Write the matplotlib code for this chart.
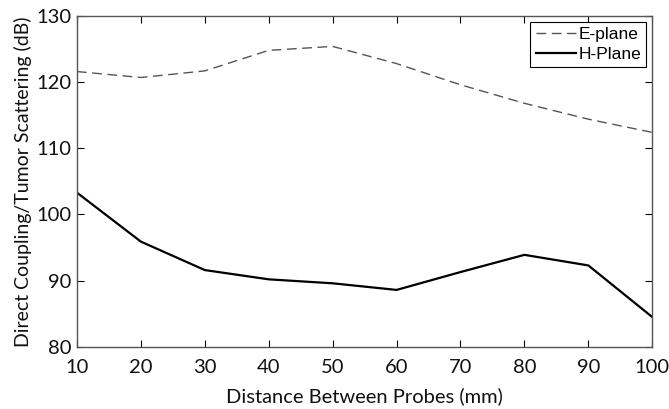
import numpy as np
import matplotlib
matplotlib.use("Agg")
import matplotlib.pyplot as plt

# distance between probes (mm)
dist = [10, 20, 30, 40, 50, 60, 70, 80, 90, 100]
# direct coupling / tumor scattering (dB)
e_plane = [121.6, 120.7, 121.7, 124.8, 125.4, 122.8, 119.6, 116.8, 114.4, 112.4]
h_plane = [103.3, 95.9, 91.6, 90.2, 89.6, 88.6, 91.3, 93.9, 92.3, 84.5]

xticks = [10, 20, 30, 40, 50, 60, 70, 80, 90, 100]
yticks = [80, 90, 100, 110, 120, 130]

fig = plt.figure(figsize=(6.69, 4.09), dpi=100)
ax = fig.add_axes([0.115, 0.152, 0.86, 0.809])

ax.plot(dist, e_plane, color='#555555', ls=(0, (7, 4)), lw=1.0, label='E-plane')
ax.plot(dist, h_plane, color='black', lw=1.6, label='H-Plane')

ax.set_xlim(10, 100)
ax.set_ylim(80, 130)
ax.set_xticks(xticks)
ax.set_yticks(yticks)
ax.tick_params(direction='in', top=True, right=True, length=5, width=0.8,
               labelsize=14.5, labelcolor='#111111')
ax.tick_params(axis='x', pad=9)
ax.tick_params(axis='y', pad=4)
for lab in ax.get_xticklabels() + ax.get_yticklabels():
    lab.set_family('Lato')
for s in ax.spines.values():
    s.set_color('#555555')
    s.set_linewidth(1.0)

ax.set_xlabel('Distance Between Probes (mm)', family='Lato', fontsize=14.5,
              labelpad=8, color='#111111')
ax.set_ylabel('Direct Coupling/Tumor Scattering (dB)', family='Lato', fontsize=14,
              labelpad=3, color='#111111')

leg = ax.legend(loc='upper right', prop={'family': 'Liberation Sans', 'size': 12.5},
                fancybox=False, framealpha=1, edgecolor='black',
                handlelength=2.3, handletextpad=0.15, borderpad=0.3,
                labelspacing=0.25, borderaxespad=0.35)
leg.get_frame().set_linewidth(0.8)

plt.savefig('out.png', dpi=100)
